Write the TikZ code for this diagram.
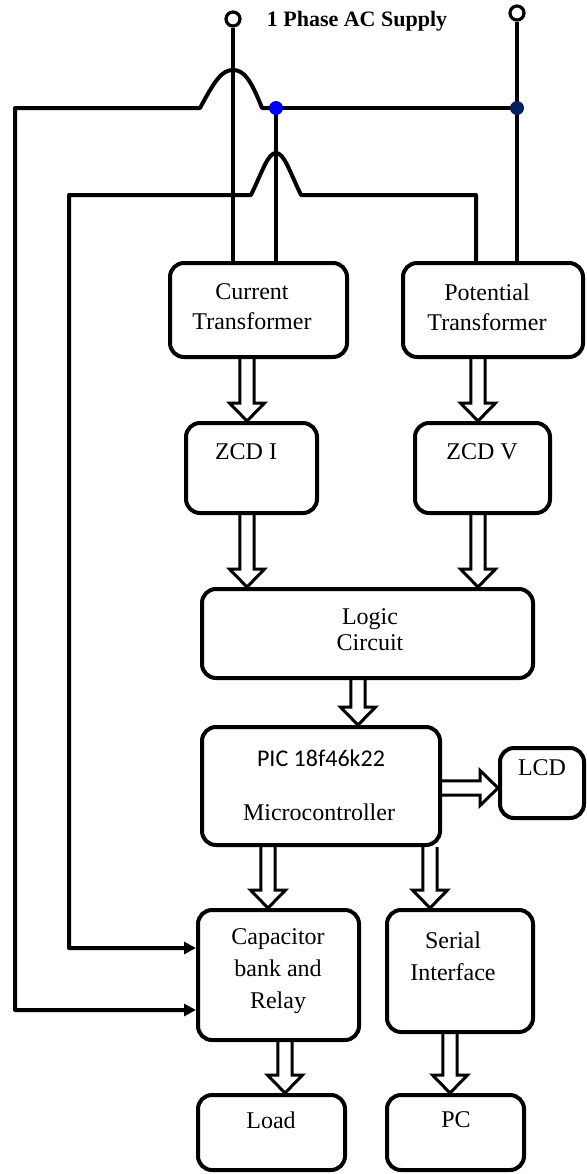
\documentclass[tikz,border=0pt]{standalone}
\usepackage{fontspec}
\setmainfont{Liberation Serif}
\newfontfamily\calibrifont{Carlito}
\usetikzlibrary{calc,arrows.meta}
\definecolor{navydot}{RGB}{0,32,96}
\newcommand\hollowarrow[2]{%
  \coordinate (haA) at (#1);
  \coordinate (haB) at (#2);
  \coordinate (haC) at ($(haB)!9pt!(haA)$);
  \draw[harrow] ($(haA)!3.6pt!90:(haB)$) -- ($(haC)!3.6pt!-90:(haA)$) -- ($(haC)!8.8pt!-90:(haA)$) -- (haB) -- ($(haC)!8.8pt!90:(haA)$) -- ($(haC)!3.6pt!90:(haA)$) -- ($(haA)!3.6pt!-90:(haB)$);
}
\tikzset{
  box/.style={draw, rounded corners=7pt, line width=2pt, inner sep=0pt},
  txt/.style={align=center, inner sep=0pt, font=\fontsize{12}{15}\selectfont},
  wire/.style={line width=2pt, line join=round},
  harrow/.style={line width=1.5pt, line join=miter},
  term/.style={circle, draw, line width=1.6pt, fill=white, minimum size=7pt, inner sep=0pt},
  jdot/.style={circle, inner sep=0pt, minimum size=7pt},
  tip/.style={-{Triangle[length=6pt,width=6pt]}}
}
\begin{document}
\begin{tikzpicture}[x=0.5pt,y=-0.5pt]
\useasboundingbox (0,0) rectangle (587,1174);

% boxes
\node[box, minimum width=88.5pt, minimum height=47pt] (ct) at (258.5,310) {};
\node[box, minimum width=90pt, minimum height=47pt] (pt) at (493,310) {};
\node[box, minimum width=65.5pt, minimum height=45pt] (zi) at (251.5,468) {};
\node[box, minimum width=67.5pt, minimum height=45pt] (zv) at (482.5,468) {};
\node[box, minimum width=165.5pt, minimum height=44.5pt] (logic) at (367.5,633.5) {};
\node[box, minimum width=119pt, minimum height=59pt] (pic) at (321,786) {};
\node[box, minimum width=42pt, minimum height=35pt] (lcd) at (542,783) {};
\node[box, minimum width=80.5pt, minimum height=65pt] (cap) at (278.5,975) {};
\node[box, minimum width=73pt, minimum height=61pt] (ser) at (460,971) {};
\node[box, minimum width=73.5pt, minimum height=37.5pt] (load) at (271.5,1132.5) {};
\node[box, minimum width=68.5pt, minimum height=37.5pt] (pc) at (455.5,1132.5) {};

% texts
\node[font=\bfseries\fontsize{11}{13}\selectfont, inner sep=0pt] (sup) at (357,21) {1 Phase AC Supply};
\node[txt] (ctt) at (252,307) {Current\\Transformer};
\node[txt] (ptt) at (487,307) {Potential\\Transformer};
\node[txt] (zit) at (246,452) {ZCD I};
\node[txt] (zvt) at (482,452) {ZCD V};
\node[txt, font=\fontsize{12}{13}\selectfont] (logict) at (370,630) {Logic\\Circuit};
\node[txt, font=\calibrifont\fontsize{12}{15}\selectfont] (pict) at (321,758) {PIC 18f46k22};
\node[txt] (pict2) at (319,812) {Microcontroller};
\node[txt] (lcdt) at (542,768) {LCD};
\node[txt, font=\fontsize{12}{16}\selectfont] (capt) at (278,971) {Capacitor\\bank and\\Relay};
\node[txt, font=\fontsize{12}{16}\selectfont] (sert) at (453,956) {Serial\\Interface};
\node[txt] (loadt) at (271,1120) {Load};
\node[txt] (pct) at (456,1120) {PC};

% terminals and junctions
\node[term] (tL) at (233,19) {};
\node[term] (tR) at (517,13) {};
\coordinate (jB) at (276,108);
\coordinate (jN) at (517,108);

% wire coordinates
\coordinate (c1) at (15,108);
\coordinate (c2) at (15,1010);
\coordinate (c3) at (69,195);
\coordinate (c4) at (69,948);
\coordinate (c5) at (476,195);
\coordinate (h1a) at (200,108);
\coordinate (h1b) at (262,108);
\coordinate (k1) at (233,70);
\coordinate (h2a) at (251,195);
\coordinate (h2b) at (301,195);
\coordinate (k2) at (276,153);

% supply wires
\draw[wire] (tL) -- (tL |- ct.north);
\draw[wire] (tR) -- (tR |- pt.north);
\draw[wire] (jB) -- (jN);
\draw[wire] (jB) -- (jB |- ct.north);
\draw[wire, tip] (jB) -- (h1b) .. controls (251,80) and (244,70) .. (k1) .. controls (222,70) and (215,80) .. (h1a) -- (c1) -- (c2) -- (cap.west |- c2);
\draw[wire, tip] (c5 |- pt.north) -- (c5) -- (h2b) .. controls (289,170) and (284,153) .. (k2) .. controls (268,153) and (263,170) .. (h2a) -- (c3) -- (c4) -- (cap.west |- c4);

\node[jdot, fill=blue] (dB) at (jB) {};
\node[jdot, fill=navydot] (dN) at (jN) {};

% hollow arrows
\coordinate (xA) at (247,0);
\coordinate (xB) at (478,0);
\coordinate (xC) at (358,0);
\coordinate (xD) at (268,0);
\coordinate (xE) at (430,0);
\coordinate (xF) at (285,0);
\coordinate (xG) at (450,0);
\coordinate (yH) at (0,788);
\hollowarrow{xA |- ct.south}{xA |- zi.north}
\hollowarrow{xB |- pt.south}{xB |- zv.north}
\hollowarrow{xA |- zi.south}{xA |- logic.north}
\hollowarrow{xB |- zv.south}{xB |- logic.north}
\hollowarrow{xC |- logic.south}{xC |- pic.north}
\hollowarrow{pic.east |- yH}{lcd.west |- yH}
\hollowarrow{xD |- pic.south}{xD |- cap.north}
\hollowarrow{xE |- pic.south}{xE |- ser.north}
\hollowarrow{xF |- cap.south}{xF |- load.north}
\hollowarrow{xG |- ser.south}{xG |- pc.north}
\end{tikzpicture}
\end{document}
